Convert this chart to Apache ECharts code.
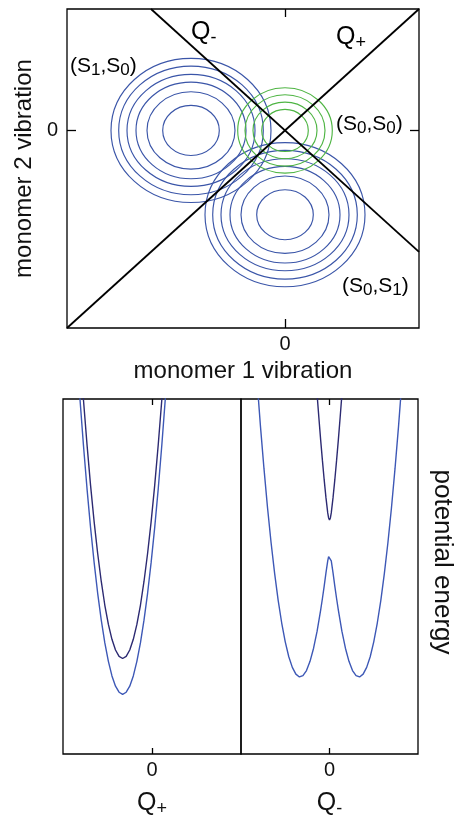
<!DOCTYPE html>
<html>
<head>
<meta charset="utf-8">
<script src="https://cdn.jsdelivr.net/npm/echarts@6/dist/echarts.min.js"></script>
<style>
  html, body { margin: 0; padding: 0; background: #fff; }
  #chart { width: 455px; height: 821px; }
</style>
</head>
<body>
<div id="chart"></div>
<script>
// ---- configuration space: monomer 1 vs monomer 2 vibration ----
const vibMin = -2.18;
const vibMax = 1.34;
const tickValues = [0];
const tickLabels = ['0'];

// contour centres (monomer 1, monomer 2)
const groundCenter = [0, 0];        // (S0,S0)
const excited10Center = [-0.94, 0]; // (S1,S0)
const excited01Center = [0, -0.93]; // (S0,S1)

// contour radii along each vibration
const excitedRx = [0.283, 0.44, 0.55, 0.64, 0.723, 0.80];
const excitedRy = [0.276, 0.427, 0.533, 0.618, 0.71, 0.795];
const groundRx = [0.233, 0.32, 0.40, 0.473];
const groundRy = [0.232, 0.312, 0.394, 0.471];

// symmetric / antisymmetric coordinate directions
const qPlusLine = [[-2.18, -2.18], [1.34, 1.34]];
const qMinusLine = [[-1.34, 1.34], [1.34, -1.34]];

// ---- potential energy cuts ----
const qPlusX = [-0.85, -0.81, -0.77, -0.73, -0.69, -0.65, -0.61, -0.57, -0.53, -0.49, -0.45, -0.41, -0.37, -0.33,
  -0.29, -0.25, -0.21, -0.17, -0.13, -0.09, -0.05, -0.01, 0.03, 0.07, 0.11, 0.15, 0.19];
const qPlusLower = [114.7, 100.2, 86.9, 74.7, 63.7, 53.9, 45.2, 37.7, 31.3, 26.1, 22.0, 19.1, 17.4, 16.8,
  17.4, 19.1, 22.0, 26.1, 31.3, 37.7, 45.2, 53.9, 63.7, 74.7, 86.9, 100.2, 114.7];
const qPlusUpper = [128.6, 113.5, 99.7, 87.1, 75.6, 65.4, 56.4, 48.6, 41.9, 36.5, 32.3, 29.3, 27.5, 26.9,
  27.5, 29.3, 32.3, 36.5, 41.9, 48.6, 56.4, 65.4, 75.6, 87.1, 99.7, 113.5, 128.6];

const qMinusLowerX = [-0.86, -0.82, -0.78, -0.74, -0.70, -0.66, -0.62, -0.58, -0.54, -0.50, -0.46, -0.42, -0.38,
  -0.34, -0.30, -0.26, -0.22, -0.18, -0.14, -0.10, -0.08, -0.06, -0.04, -0.02, -0.01, 0,
  0.01, 0.02, 0.04, 0.06, 0.08, 0.10, 0.14, 0.18, 0.22, 0.26, 0.30, 0.34, 0.38, 0.42, 0.46,
  0.50, 0.54, 0.58, 0.62, 0.66, 0.70, 0.74, 0.78, 0.82, 0.86];
const qMinusLower = [119.8, 105.5, 92.3, 80.3, 69.3, 59.5, 50.9, 43.3, 36.9, 31.6, 27.4, 24.4, 22.5,
  21.7, 22.1, 23.5, 26.1, 29.8, 34.6, 40.5, 43.8, 47.3, 51.0, 54.4, 55.6, 56.1,
  55.6, 54.4, 51.0, 47.3, 43.8, 40.5, 34.6, 29.8, 26.1, 23.5, 22.1, 21.7, 22.5, 24.4, 27.4,
  31.6, 36.9, 43.3, 50.9, 59.5, 69.3, 80.3, 92.3, 105.5, 119.8];
const qMinusUpperX = [-0.16, -0.14, -0.12, -0.10, -0.08, -0.06, -0.04, -0.02, -0.01, 0,
  0.01, 0.02, 0.04, 0.06, 0.08, 0.10, 0.12, 0.14, 0.16];
const qMinusUpper = [108.0, 101.2, 94.7, 88.5, 82.7, 77.2, 72.2, 67.9, 66.5, 65.9,
  66.5, 67.9, 72.2, 77.2, 82.7, 88.5, 94.7, 101.2, 108.0];

const FONT = '"Liberation Sans", Arial, Helvetica, sans-serif';
const ringBlue = '#3a55a8';
const ringGreen = '#4fb544';
const curveBlue = '#3d58b6';
const curveDark = '#2c2a72';

function ringData(center, rxs, rys) {
  return rxs.map((rx, i) => [center[0], center[1], rx, rys[i]]);
}
function pairs(xs, ys) {
  return xs.map((x, i) => [x, ys[i]]);
}
function ringSeries(name, data, color) {
  return {
    type: 'custom', name: name, xAxisIndex: 0, yAxisIndex: 0, z: 2,
    data: data, encode: { x: 0, y: 1 },
    renderItem: function (params, api) {
      const c = api.coord([api.value(0), api.value(1)]);
      const s = api.size([api.value(2), api.value(3)]);
      return {
        type: 'ellipse',
        shape: { cx: c[0], cy: c[1], rx: s[0], ry: s[1] },
        style: { fill: 'none', stroke: color, lineWidth: 1.15 }
      };
    }
  };
}
function lineSeries(data, color, width, xi, yi, z) {
  return {
    type: 'line', data: data, xAxisIndex: xi, yAxisIndex: yi, symbol: 'none', smooth: false,
    clip: true, z: z || 3, silent: true,
    lineStyle: { color: color, width: width }
  };
}
const labelFormatter = v => tickLabels[tickValues.indexOf(v)];
const hiddenLine = { show: false, onZero: false };
function bottomAxis(grid, min, max, tickLen, name, nameGap) {
  return {
    type: 'value', gridIndex: grid, position: 'bottom', min: min, max: max,
    axisLine: hiddenLine, splitLine: { show: false },
    axisTick: { show: true, inside: true, length: tickLen, customValues: tickValues,
      lineStyle: { color: '#000', width: 1.3 } },
    axisLabel: { show: true, customValues: tickValues, formatter: labelFormatter, margin: 6,
      color: '#111', fontSize: 20, fontFamily: FONT },
    name: name, nameLocation: 'middle', nameGap: nameGap,
    nameTextStyle: { color: '#111', fontSize: 24, fontFamily: FONT,
      rich: {
        q: { fontSize: 25, fontFamily: FONT, color: '#111', lineHeight: 30, verticalAlign: 'middle' },
        s: { fontSize: 18, fontFamily: FONT, color: '#111', lineHeight: 18, verticalAlign: 'bottom' }
      } }
  };
}
function topAxis(grid, min, max, tickLen) {
  return {
    type: 'value', gridIndex: grid, position: 'top', min: min, max: max,
    axisLine: hiddenLine, splitLine: { show: false },
    axisTick: { show: true, inside: true, length: tickLen, customValues: tickValues,
      lineStyle: { color: '#000', width: 1.3 } },
    axisLabel: { show: false }
  };
}
const gridBase = { show: true, borderColor: '#000', borderWidth: 1.3, backgroundColor: 'transparent',
  containLabel: false, outerBoundsMode: 'none' };

const subRich = {
  n: { fontSize: 21, fontFamily: FONT, color: '#333', lineHeight: 25, verticalAlign: 'middle' },
  s: { fontSize: 17, fontFamily: FONT, color: '#333', lineHeight: 16, verticalAlign: 'bottom' },
  q: { fontSize: 25, fontFamily: FONT, color: '#111', lineHeight: 30, verticalAlign: 'middle' },
  qs: { fontSize: 18, fontFamily: FONT, color: '#111', lineHeight: 18, verticalAlign: 'bottom' }
};
function label(text, x, y) {
  return { type: 'text', x: x, y: y, z: 10,
    style: { text: text, rich: subRich, align: 'left', verticalAlign: 'middle' } };
}

const option = {
  animation: false,
  backgroundColor: '#fff',
  grid: [
    Object.assign({ left: 67, top: 9, width: 352, height: 319 }, gridBase),
    Object.assign({ left: 63, top: 399, width: 178, height: 355 }, gridBase),
    Object.assign({ left: 241, top: 399, width: 177, height: 355 }, gridBase)
  ],
  xAxis: [
    bottomAxis(0, vibMin, vibMax, 9, 'monomer 1 vibration', 31),
    topAxis(0, vibMin, vibMax, 8),
    bottomAxis(1, -1, 1, 6, '{q|Q}{s|+}', 34),
    topAxis(1, -1, 1, 6),
    bottomAxis(2, -1, 1, 6, '{q|Q}{s|-}', 34),
    topAxis(2, -1, 1, 6)
  ],
  yAxis: [
    {
      type: 'value', gridIndex: 0, position: 'left', min: vibMin, max: vibMax,
      axisLine: hiddenLine, splitLine: { show: false },
      axisTick: { show: true, inside: true, length: 9, customValues: tickValues,
        lineStyle: { color: '#000', width: 1.3 } },
      axisLabel: { show: true, customValues: tickValues, formatter: labelFormatter, margin: 9,
        color: '#111', fontSize: 20, fontFamily: FONT },
      name: 'monomer 2 vibration', nameLocation: 'middle', nameRotate: 90, nameGap: 30,
      nameTextStyle: { color: '#111', fontSize: 24, fontFamily: FONT }
    },
    {
      type: 'value', gridIndex: 0, position: 'right', min: vibMin, max: vibMax,
      axisLine: hiddenLine, splitLine: { show: false },
      axisTick: { show: true, inside: true, length: 9, customValues: tickValues,
        lineStyle: { color: '#000', width: 1.3 } },
      axisLabel: { show: false }
    },
    { type: 'value', gridIndex: 1, min: 0, max: 100, show: false },
    { type: 'value', gridIndex: 2, min: 0, max: 100, show: false }
  ],
  series: [
    ringSeries('(S1,S0)', ringData(excited10Center, excitedRx, excitedRy), ringBlue),
    ringSeries('(S0,S1)', ringData(excited01Center, excitedRx, excitedRy), ringBlue),
    ringSeries('(S0,S0)', ringData(groundCenter, groundRx, groundRy), ringGreen),
    lineSeries(qPlusLine, '#000', 1.8, 0, 0, 5),
    lineSeries(qMinusLine, '#000', 1.8, 0, 0, 5),
    lineSeries(pairs(qPlusX, qPlusLower), curveBlue, 1.4, 2, 2),
    lineSeries(pairs(qPlusX, qPlusUpper), curveDark, 1.4, 2, 2),
    lineSeries(pairs(qMinusLowerX, qMinusLower), curveBlue, 1.4, 4, 3),
    lineSeries(pairs(qMinusUpperX, qMinusUpper), curveDark, 1.4, 4, 3)
  ],
  graphic: [
    label('{n|(S}{s|1}{n|,S}{s|0}{n|)}', 70, 66),
    label('{n|(S}{s|0}{n|,S}{s|0}{n|)}', 336, 124),
    label('{n|(S}{s|0}{n|,S}{s|1}{n|)}', 342, 286),
    label('{q|Q}{qs|-}', 191, 32),
    label('{q|Q}{qs|+}', 336, 37),
    { type: 'text', x: 442, y: 562, rotation: -Math.PI / 2, z: 10,
      style: { text: 'potential energy', fill: '#111', fontSize: 26, fontFamily: FONT,
        align: 'center', verticalAlign: 'middle' } }
  ]
};

const chart = echarts.init(document.getElementById('chart'), null, { renderer: 'canvas' });
chart.setOption(option);
</script>
</body>
</html>
